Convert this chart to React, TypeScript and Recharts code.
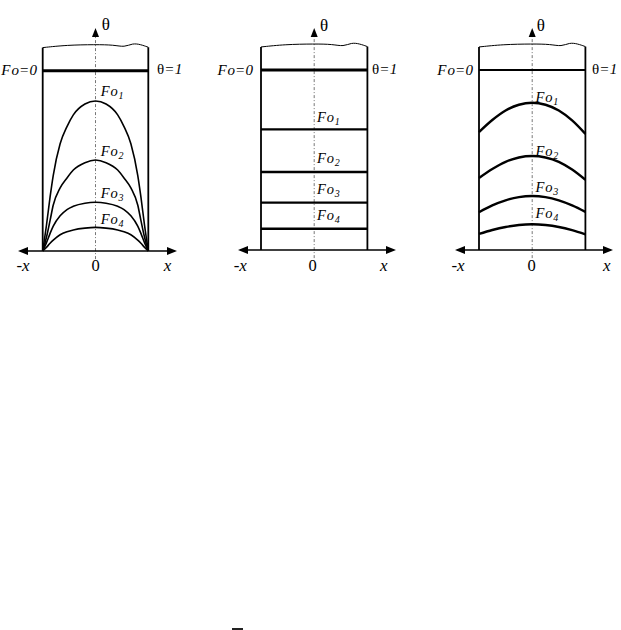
import React from 'react';
import { ComposedChart, Line, Scatter, XAxis, YAxis } from 'recharts';

const FONT = '"Liberation Serif", "Times New Roman", serif';

// ---------- data (x: position, walls at ±1 ; y: dimensionless temperature θ) ----------
const wallX = [-1, 1];
const topX = [-1, -0.55, 0, 0.35, 0.55, 0.7, 0.85, 1];
const topTheta = [1.128, 1.142, 1.145, 1.143, 1.13, 1.152, 1.146, 1.13];
const foZeroTheta = 1;

// Panel 1 – surface temperature fixed
const p1X = [-1, -0.93, -0.86, -0.8, -0.67, -0.54, -0.42, -0.2, 0, 0.2, 0.42, 0.54, 0.67, 0.8, 0.86, 0.93, 1];
const p1Fo1 = [0, 0.14, 0.3, 0.42, 0.595, 0.69, 0.755, 0.815, 0.832, 0.815, 0.755, 0.69, 0.595, 0.42, 0.3, 0.14, 0];
const p1Fo2 = [0, 0.075, 0.17, 0.255, 0.35, 0.405, 0.449, 0.49, 0.505, 0.49, 0.449, 0.405, 0.35, 0.255, 0.17, 0.075, 0];
const p1Fo3 = [0, 0.045, 0.098, 0.138, 0.195, 0.23, 0.248, 0.265, 0.27, 0.265, 0.248, 0.23, 0.195, 0.138, 0.098, 0.045, 0];
const p1Fo4 = [0, 0.02, 0.043, 0.06, 0.09, 0.107, 0.117, 0.127, 0.131, 0.127, 0.117, 0.107, 0.09, 0.06, 0.043, 0.02, 0];

// Panel 2 – uniform temperature
const p2Levels = [0.67, 0.433, 0.263, 0.118];

// Panel 3 – convective boundary
const p3X = [-1, -0.75, -0.5, -0.25, 0, 0.25, 0.5, 0.75, 1];
const p3Fo1 = [0.655, 0.722, 0.775, 0.807, 0.818, 0.807, 0.775, 0.72, 0.645];
const p3Fo2 = [0.4, 0.45, 0.49, 0.514, 0.522, 0.514, 0.49, 0.447, 0.39];
const p3Fo3 = [0.21, 0.248, 0.276, 0.294, 0.3, 0.294, 0.276, 0.248, 0.212];
const p3Fo4 = [0.089, 0.111, 0.128, 0.139, 0.143, 0.139, 0.128, 0.11, 0.087];

// axis extents (x arrow tips, θ arrow tip)
const p1Axis = { xl: -1.468, xr: 1.544, top: 1.237 };
const p2Axis = { xl: -1.432, xr: 1.538, top: 1.233 };
const p3Axis = { xl: -1.451, xr: 1.519, top: 1.233 };

type Lbl = { x: number; y: number; text: string; kind: string; sub?: string };

const p1Labels: Lbl[] = [
  { x: 0.117, y: 1.226, text: 'θ', kind: 'theta' },
  { x: -1.089, y: 0.976, text: 'Fo=0', kind: 'fo0' },
  { x: 1.165, y: 0.982, text: 'θ=1', kind: 'th1' },
  { x: 0.1, y: 0.862, text: 'Fo', sub: '1', kind: 'fo' },
  { x: 0.1, y: 0.526, text: 'Fo', sub: '2', kind: 'fo' },
  { x: 0.1, y: 0.296, text: 'Fo', sub: '3', kind: 'fo' },
  { x: 0.1, y: 0.152, text: 'Fo', sub: '4', kind: 'fo' },
  { x: -1.373, y: -0.111, text: '-x', kind: 'ax' },
  { x: 0, y: -0.111, text: '0', kind: 'zero' },
  { x: 1.364, y: -0.111, text: 'x', kind: 'ax' },
];
const p2Labels: Lbl[] = [
  { x: 0.109, y: 1.217, text: 'θ', kind: 'theta' },
  { x: -1.131, y: 0.972, text: 'Fo=0', kind: 'fo0' },
  { x: 1.086, y: 0.978, text: 'θ=1', kind: 'th1' },
  { x: 0.053, y: 0.711, text: 'Fo', sub: '1', kind: 'fo' },
  { x: 0.053, y: 0.483, text: 'Fo', sub: '2', kind: 'fo' },
  { x: 0.053, y: 0.311, text: 'Fo', sub: '3', kind: 'fo' },
  { x: 0.053, y: 0.167, text: 'Fo', sub: '4', kind: 'fo' },
  { x: -1.39, y: -0.117, text: '-x', kind: 'ax' },
  { x: -0.03, y: -0.117, text: '0', kind: 'zero' },
  { x: 1.31, y: -0.117, text: 'x', kind: 'ax' },
];
const p3Labels: Lbl[] = [
  { x: 0.085, y: 1.217, text: 'θ', kind: 'theta' },
  { x: -1.094, y: 0.972, text: 'Fo=0', kind: 'fo0' },
  { x: 1.124, y: 0.978, text: 'θ=1', kind: 'th1' },
  { x: 0.062, y: 0.822, text: 'Fo', sub: '1', kind: 'fo' },
  { x: 0.062, y: 0.522, text: 'Fo', sub: '2', kind: 'fo' },
  { x: 0.062, y: 0.322, text: 'Fo', sub: '3', kind: 'fo' },
  { x: 0.062, y: 0.178, text: 'Fo', sub: '4', kind: 'fo' },
  { x: -1.395, y: -0.117, text: '-x', kind: 'ax' },
  { x: -0.01, y: -0.117, text: '0', kind: 'zero' },
  { x: 1.4, y: -0.117, text: 'x', kind: 'ax' },
];

// ---------- helpers ----------
const zip = (xs: number[], ys: number[]) => xs.map((x, i) => ({ x, y: ys[i] }));
const flat = (v: number) => zip(wallX, [v, v]);

type LayoutT = { left: number; cx: number; hw: number; y0: number; y1: number };
const W = 207;
const H = 290;

const LabelShape = (props: any) => {
  const { cx, cy, payload } = props;
  if (cx == null || cy == null) return <g />;
  const p: Lbl = payload;
  const common = { x: cx, y: cy, fontFamily: FONT, fill: '#000' } as any;
  if (p.kind === 'fo') {
    return (
      <text {...common} fontSize={14.5} fontStyle="italic" letterSpacing={0.8}>
        <tspan>{p.text}</tspan>
        <tspan fontSize={10} dy={3}>{p.sub}</tspan>
      </text>
    );
  }
  if (p.kind === 'fo0') {
    return (
      <text {...common} fontSize={15} textAnchor="end" letterSpacing={1}>
        <tspan fontStyle="italic">Fo</tspan>
        <tspan>=</tspan>
        <tspan fontStyle="italic">0</tspan>
      </text>
    );
  }
  if (p.kind === 'th1') {
    return (
      <text {...common} fontSize={15} letterSpacing={1}>
        <tspan>θ=</tspan>
        <tspan fontStyle="italic">1</tspan>
      </text>
    );
  }
  if (p.kind === 'theta') {
    return (
      <text {...common} fontSize={17}>
        {p.text}
      </text>
    );
  }
  if (p.kind === 'zero') {
    return (
      <text {...common} fontSize={16.5} textAnchor="middle">
        {p.text}
      </text>
    );
  }
  return (
    <text {...common} fontSize={17} textAnchor="middle" fontStyle="italic">
      {p.text}
    </text>
  );
};

const ArrowShape = (props: any) => {
  const { cx, cy, payload } = props;
  if (cx == null || cy == null) return <g />;
  let pts = '';
  if (payload.dir === 'left') pts = `${cx},${cy} ${cx + 10},${cy - 4} ${cx + 10},${cy + 4}`;
  else if (payload.dir === 'right') pts = `${cx},${cy} ${cx - 10},${cy - 4} ${cx - 10},${cy + 4}`;
  else pts = `${cx},${cy} ${cx - 3.5},${cy + 9} ${cx + 3.5},${cy + 9}`;
  return <polygon points={pts} fill="#000" />;
};

type Series = { data: { x: number; y: number }[]; width: number; curve: 'monotone' | 'linear' };

function Panel({
  layout,
  axis,
  series,
  zeroWidth,
  labels,
}: {
  layout: LayoutT;
  axis: { xl: number; xr: number; top: number };
  series: Series[];
  zeroWidth: number;
  labels: Lbl[];
}) {
  const { left, cx, hw, y0, y1 } = layout;
  const sy = y0 - y1;
  const xDomain = [(0 - (cx - left)) / hw, (W - (cx - left)) / hw];
  const yDomain = [-(H - y0) / sy, y0 / sy];
  const leftWall = [
    { x: -1, y: 0 },
    { x: -1, y: topTheta[0] },
  ];
  const rightWall = [
    { x: 1, y: 0 },
    { x: 1, y: topTheta[topTheta.length - 1] },
  ];
  const xAxisLine = [
    { x: axis.xl + 0.05, y: 0 },
    { x: axis.xr - 0.05, y: 0 },
  ];
  const centerLine = [
    { x: 0, y: -0.045 },
    { x: 0, y: axis.top - 0.03 },
  ];
  const arrows = [
    { x: axis.xl, y: 0, dir: 'left' },
    { x: axis.xr, y: 0, dir: 'right' },
    { x: 0, y: axis.top, dir: 'up' },
  ];
  return (
    <div style={{ position: 'absolute', left, top: 0, width: W, height: H }}>
      <ComposedChart width={W} height={H} margin={{ top: 0, right: 0, bottom: 0, left: 0 }} style={{ overflow: 'visible' }}>
        <XAxis type="number" dataKey="x" domain={xDomain} allowDataOverflow scale="linear" hide />
        <YAxis type="number" dataKey="y" domain={yDomain} allowDataOverflow scale="linear" hide />
        <Line data={centerLine} dataKey="y" stroke="#777" strokeWidth={1} strokeDasharray="3 2 1 2" dot={false} isAnimationActive={false} type="linear" />
        <Line data={zip(topX, topTheta)} dataKey="y" stroke="#000" strokeWidth={1} dot={false} isAnimationActive={false} type="basis" />
        <Line data={leftWall} dataKey="y" stroke="#000" strokeWidth={1.8} dot={false} isAnimationActive={false} type="linear" />
        <Line data={rightWall} dataKey="y" stroke="#000" strokeWidth={1.8} dot={false} isAnimationActive={false} type="linear" />
        <Line data={flat(foZeroTheta)} dataKey="y" stroke="#000" strokeWidth={zeroWidth} dot={false} isAnimationActive={false} type="linear" />
        {series.map((s, i) => (
          <Line key={i} data={s.data} dataKey="y" stroke="#000" strokeWidth={s.width} dot={false} isAnimationActive={false} type={s.curve} />
        ))}
        <Line data={xAxisLine} dataKey="y" stroke="#000" strokeWidth={1.3} dot={false} isAnimationActive={false} type="linear" />
        <Scatter data={arrows} shape={<ArrowShape />} isAnimationActive={false} />
        <Scatter data={labels} shape={<LabelShape />} isAnimationActive={false} />
      </ComposedChart>
    </div>
  );
}

const p1Layout: LayoutT = { left: 0, cx: 95.5, hw: 52.8, y0: 251, y1: 70.7 };
const p2Layout: LayoutT = { left: 207, cx: 314.2, hw: 53.2, y0: 250, y1: 70 };
const p3Layout: LayoutT = { left: 414, cx: 532.2, hw: 53.2, y0: 250, y1: 70 };

export default function App() {
  const p1Series: Series[] = [p1Fo1, p1Fo2, p1Fo3, p1Fo4].map((ys) => ({ data: zip(p1X, ys), width: 1.6, curve: 'monotone' }));
  const p2Series: Series[] = p2Levels.map((v) => ({ data: flat(v), width: 2.4, curve: 'linear' }));
  const p3Series: Series[] = [p3Fo1, p3Fo2, p3Fo3, p3Fo4].map((ys) => ({ data: zip(p3X, ys), width: 2.4, curve: 'monotone' }));
  return (
    <div style={{ position: 'absolute', left: 0, top: 0, width: 621, height: 630, background: '#fff', overflow: 'hidden' }}>
      <Panel layout={p1Layout} axis={p1Axis} series={p1Series} zeroWidth={3} labels={p1Labels} />
      <Panel layout={p2Layout} axis={p2Axis} series={p2Series} zeroWidth={3} labels={p2Labels} />
      <Panel layout={p3Layout} axis={p3Axis} series={p3Series} zeroWidth={2} labels={p3Labels} />
      <div style={{ position: 'absolute', left: 232, top: 628, width: 11, height: 2, background: '#222' }} />
    </div>
  );
}
